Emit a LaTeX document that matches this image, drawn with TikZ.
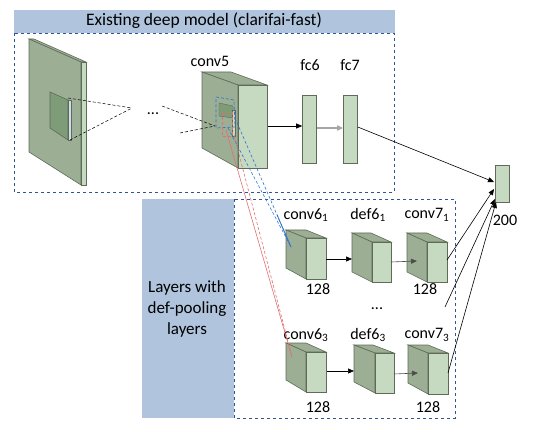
\documentclass[tikz,border=0pt]{standalone}
\usepackage{fontspec}
\setmainfont{Carlito}
\usetikzlibrary{arrows.meta,calc}
\definecolor{darkf}{HTML}{9CAE94}
\definecolor{lightf}{HTML}{C5DAC1}
\definecolor{patchf}{HTML}{7E9C78}
\definecolor{edgec}{HTML}{5E6B58}
\definecolor{steel}{HTML}{B0C4DE}
\definecolor{boxblue}{HTML}{2F5597}
\definecolor{pblue}{HTML}{2E75D0}
\definecolor{pred}{HTML}{E07070}
\newcommand\cuboid[7]{%
 \filldraw[fill=darkf,draw=edgec,line width=0.6pt] (#1,#4) -- ({#1+#3-#2},#4) -- (#3,{#4+#5}) -- (#2,{#4+#5}) -- cycle;
 \filldraw[fill=darkf,draw=edgec,line width=0.6pt] (#1,#4) -- (#2,{#4+#5}) -- (#2,#6) -- (#1,#7) -- cycle;
 \filldraw[fill=lightf,draw=edgec,line width=0.6pt] (#2,{#4+#5}) rectangle (#3,#6);
}
\begin{document}
\begin{tikzpicture}[x=1pt,y=-1pt,
  lbl/.style={font=\fontsize{16}{18}\selectfont, inner sep=0pt},
  ttl/.style={font=\fontsize{17.5}{20}\selectfont, inner sep=0pt},
  arr/.style={-{Triangle[length=6pt,width=5pt]}, line width=0.6pt},
  bar/.style={fill=lightf, draw=edgec, line width=0.6pt, minimum width=14pt, inner sep=0pt},
  dbox/.style={draw=boxblue, dashed, line width=0.7pt},
  thin dash/.style={densely dashed, line width=0.5pt}]
\useasboundingbox (0,0) rectangle (533,422);
% top box
\fill[steel] (14,10) rectangle (395,33);
\draw[dbox] (14,33) rectangle (394,192);
\node[ttl] (title) at (204,21) {Existing deep model (clarifai-fast)};
% bottom box
\fill[steel] (142,199) rectangle (234,418);
\draw[dbox] (234,199) rectangle (455,418);
\node[lbl, align=center, font=\fontsize{17}{21}\selectfont] (side) at (187,309) {Layers with\\def-pooling\\layers};
% input slab
\cuboid{29}{81}{86}{39}{23}{185}{152}
\filldraw[fill=patchf,draw=edgec,line width=0.6pt] (50,92) -- (68,100) -- (68,140) -- (50,128) -- cycle;
\filldraw[fill=steel!60!white,draw=edgec,line width=0.5pt] (68,100) rectangle (71,140);
\coordinate (pt1) at (68,98);
\coordinate (pb1) at (70,140);
\coordinate (apex) at (132,108);
\draw[thin dash] (pt1) -- (apex);
\draw[thin dash] (pb1) -- (apex);
\node[lbl] (dots1) at (153,114) {...};
% conv5
\cuboid{202}{238}{267}{72}{13}{168}{148}
\node[lbl] (c5lbl) at (210,61) {conv5};
\filldraw[fill=patchf,draw=edgec,line width=0.4pt] (219,103) -- (233,106) -- (233,118) -- (219,116) -- cycle;
\filldraw[fill=lightf,draw=edgec,line width=0.4pt] (232,110) rectangle (235,136);
\draw[pblue, line width=0.7pt, densely dashed] (216,97) -- (234,100) -- (235,127) -- (216,128) -- cycle;
\draw[pred, line width=0.6pt, densely dashed] (222,112) rectangle (232,136);
\coordinate (s1) at (162,106);
\coordinate (s2) at (180,133);
\coordinate (s3) at (215,126);
\draw[thin dash] (s1) -- (s3);
\draw[thin dash] (s2) -- (s3);
% fc layers
\node[bar, minimum height=68pt] (fc6) at (309.5,129) {};
\node[bar, minimum height=68pt] (fc7) at (350.5,129) {};
\node[lbl] (fc6lbl) at (310,65) {fc6};
\node[lbl] (fc7lbl) at (350,65) {fc7};
\coordinate (c5r) at (268,126);
\draw[arr] (c5r) -- (fc6.west |- c5r);
\draw[arr, draw=black!35, line width=1.6pt] (fc6.east |- 0,128) -- (fc7.west |- 0,128);
% output
\node[bar, minimum height=37pt] (out) at (502,183.5) {};
\node[lbl] (outlbl) at (505,220) {200};
\coordinate (o1) at (494,182);
\coordinate (o2) at (494,189);
\coordinate (o3) at (495,199);
\coordinate (o4) at (496,202);
\draw[arr] (fc7.east |- 0,127) -- (o1);
% row 1
\cuboid{286}{306}{326}{230}{8}{279}{268}
\cuboid{352}{372}{391}{233}{9}{282}{272}
\cuboid{407}{427}{447}{233}{9}{282}{272}
\node[lbl] (l61) at (306,215) {conv6\textsubscript{1}};
\node[lbl] (ld61) at (368,215) {def6\textsubscript{1}};
\node[lbl] (l71) at (427,215) {conv7\textsubscript{1}};
\node[lbl] (n61) at (318,289) {128};
\node[lbl] (n71) at (425,289) {128};
\coordinate (c61r) at (326,259);
\coordinate (d61l) at (352,259);
\coordinate (d61r) at (391,262);
\coordinate (c71i) at (417,261);
\coordinate (c71r) at (447,260);
\draw[arr] (c61r) -- (d61l);
\draw[arr, draw=black!70] (d61r) -- (c71i);
\draw[arr] (c71r) -- (o2);
% middle
\node[lbl] (dots2) at (377,309) {...};
\coordinate (mid) at (445,307);
\draw[arr] (mid) -- (o3);
% row 3
\cuboid{286}{306}{326}{343}{9}{392}{380}
\cuboid{354}{375}{394}{345}{8}{393}{382}
\cuboid{408}{428}{448}{345}{8}{394}{383}
\node[lbl] (l63) at (306,335) {conv6\textsubscript{3}};
\node[lbl] (ld63) at (368,335) {def6\textsubscript{3}};
\node[lbl] (l73) at (427,335) {conv7\textsubscript{3}};
\node[lbl] (n63) at (318,407) {128};
\node[lbl] (n73) at (428,407) {128};
\coordinate (c63r) at (327,371);
\coordinate (d63l) at (354,371);
\coordinate (d63r) at (394,374);
\coordinate (c73i) at (418,373);
\coordinate (c73r) at (448,373);
\draw[arr] (c63r) -- (d63l);
\draw[arr, draw=black!70] (d63r) -- (c73i);
\draw[arr] (c73r) -- (o4);
% projection lines
\coordinate (b1) at (235,118);
\coordinate (b2) at (228,128);
\coordinate (bt) at (291,247);
\draw[pblue, line width=0.6pt, densely dashed] (b1) -- (bt);
\draw[pblue, line width=0.6pt, densely dashed] (b2) -- (bt);
\draw[pblue, line width=0.8pt] ($(b1)!0.75!(bt)$) -- (bt);
\coordinate (r1) at (226,130);
\coordinate (r2) at (234,135);
\coordinate (rt) at (292,357);
\draw[pred, line width=0.6pt] (r1) -- (rt);
\draw[pred, line width=0.6pt, densely dashed] (r2) -- (rt);
\end{tikzpicture}
\end{document}
